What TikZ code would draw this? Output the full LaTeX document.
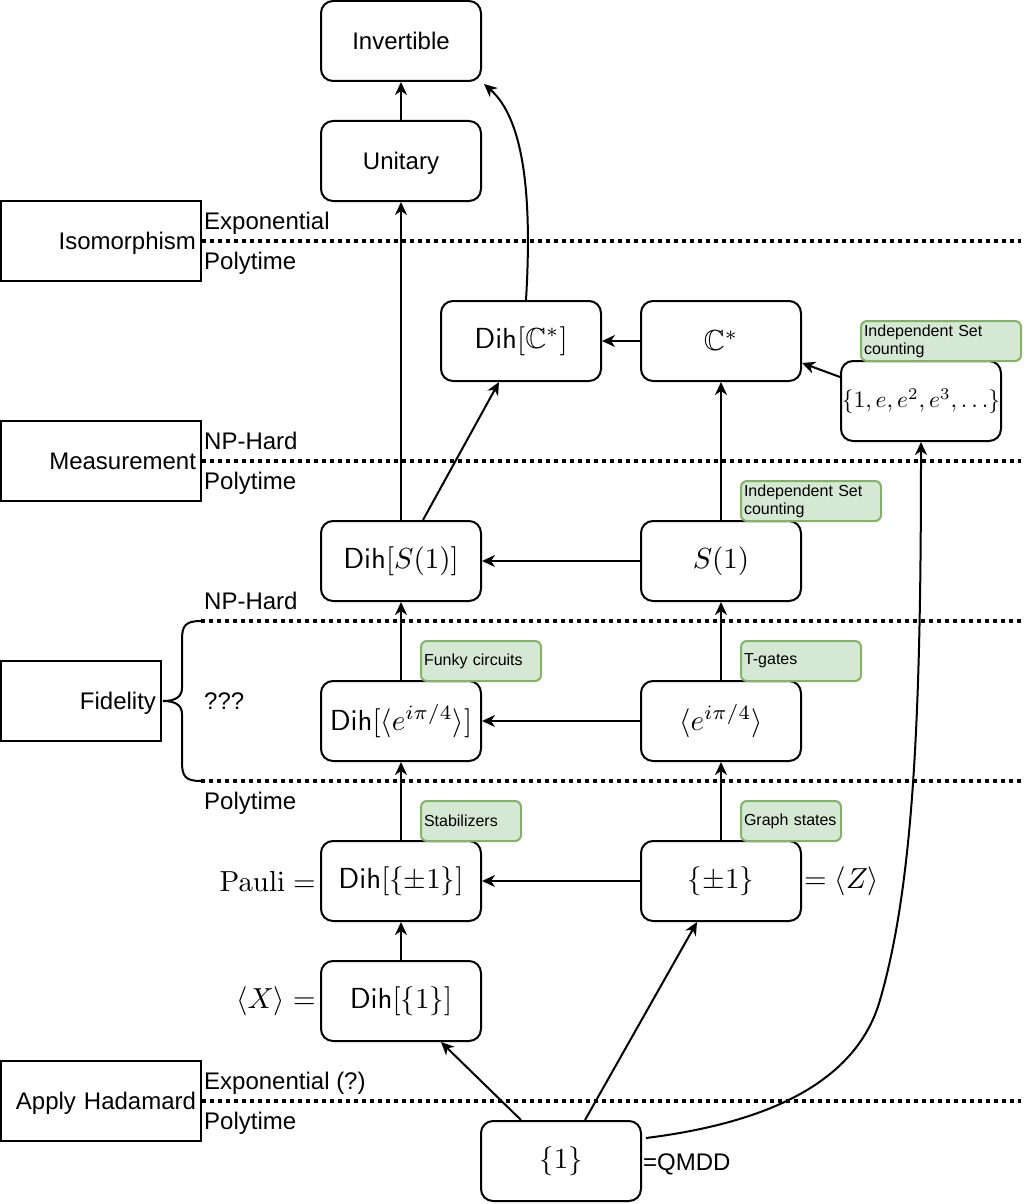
\RequirePackage{fix-cm}
\documentclass[tikz,border=0pt]{standalone}
\usepackage{amssymb}
\usepackage{graphicx}
\usepackage[no-math]{fontspec}
\newfontfamily\lsans{Liberation Sans}
\usetikzlibrary{arrows.meta}
\definecolor{notefill}{HTML}{D5E8D4}
\definecolor{noteline}{HTML}{82B366}
\newcommand{\mth}[2][2.9]{\scalebox{#1}{\fontsize{10}{12}\selectfont$#2$}}
\tikzset{
 box/.style={draw, line width=2pt, rounded corners=12pt, minimum width=160pt, minimum height=80pt, inner sep=0pt},
 sbox/.style={box, text height=17pt, text depth=0pt, font=\lsans\fontsize{24}{28}\selectfont},
 sidebox/.style={draw, line width=2pt, minimum height=80pt, inner xsep=5pt, inner ysep=0pt, align=right, text height=17pt, text depth=0pt, font=\lsans\fontsize{24}{28}\selectfont},
 note/.style={draw=noteline, fill=notefill, line width=2pt, rounded corners=6pt, minimum height=40pt, inner xsep=3pt, inner ysep=0pt, align=left, font=\lsans\fontsize{16}{18}\selectfont},
 lbl/.style={anchor=west, inner sep=0pt, text height=17pt, text depth=0pt, font=\lsans\fontsize{24}{28}\selectfont},
 mlbl/.style={inner sep=0pt},
 arr/.style={line width=2pt, -{Stealth[length=13pt,width=12pt,inset=4pt]}},
 dotline/.style={line width=4pt, dash pattern=on 4pt off 4pt},
}
\begin{document}
\begin{tikzpicture}[x=1pt,y=-1pt]
\fill[white] (0,0) rectangle (1026,1204);
\useasboundingbox (0,0) rectangle (1026,1204);

% side boxes
\node[sidebox, text width=190pt] (iso) at (101,241) {Isomorphism};
\node[sidebox, text width=190pt] (mea) at (101,461) {Measurement};
\node[sidebox, text width=150pt] (fid) at (81,701) {Fidelity};
\node[sidebox, text width=190pt] (had) at (101,1101) {Apply Hadamard};

% dotted boundaries
\coordinate (e1) at (1021,241);
\coordinate (e2) at (1021,461);
\coordinate (bt) at (201,621);
\coordinate (e3) at (1021,621);
\coordinate (bb) at (201,781);
\coordinate (e4) at (1021,781);
\coordinate (e5) at (1021,1101);
\draw[dotline] (iso.east) -- (e1);
\draw[dotline] (mea.east) -- (e2);
\draw[dotline] (bt) -- (e3);
\draw[dotline] (bb) -- (e4);
\draw[dotline] (had.east) -- (e5);

% brace
\draw[line width=2pt] (bt) .. controls (185,621) and (182,626) .. (182,640) -- (182,688) .. controls (182,697) and (175,701) .. (163,701) .. controls (175,701) and (182,705) .. (182,714) -- (182,762) .. controls (182,776) and (185,781) .. (bb);

% region labels
\node[lbl] (t1) at (204,221) {Exponential};
\node[lbl] (t2) at (204,261) {Polytime};
\node[lbl] (t3) at (204,441) {NP-Hard};
\node[lbl] (t4) at (204,481) {Polytime};
\node[lbl] (t5) at (204,601) {NP-Hard};
\node[lbl] (t6) at (204,701) {???};
\node[lbl] (t7) at (204,801) {Polytime};
\node[lbl] (t8) at (204,1081) {Exponential (?)};
\node[lbl] (t9) at (204,1121) {Polytime};

% main nodes
\node[sbox] (inv) at (401,41) {Invertible};
\node[sbox] (uni) at (401,161) {Unitary};
\node[box] (dc) at (521,341) {\mth{\mathsf{Dih}[\mathbb{C}^*]}};
\node[box] (cs) at (721,341) {\mth{\mathbb{C}^*}};
\node[box] (ee) at (921,401) {\mth[2.35]{\{1,e,e^2,e^3,\ldots\}}};
\node[box] (ds) at (401,561) {\mth{\mathsf{Dih}[S(1)]}};
\node[box] (s1) at (721,561) {\mth{S(1)}};
\node[box] (de) at (401,721) {\mth{\mathsf{Dih}[\langle e^{i\pi/4}\rangle]}};
\node[box] (et) at (721,721) {\mth{\langle e^{i\pi/4}\rangle}};
\node[box] (dp) at (401,881) {\mth{\mathsf{Dih}[\{\pm1\}]}};
\node[box] (pm) at (721,881) {\mth{\{\pm1\}}};
\node[box] (d1) at (401,1001) {\mth{\mathsf{Dih}[\{1\}]}};
\node[box] (one) at (561,1161) {\mth{\{1\}}};

% notes
\node[note, text width=154pt] (n1) at (941,341) {Independent Set\\counting};
\node[note, text width=134pt] (n2) at (811,501) {Independent Set\\counting};
\node[note, text width=114pt] (n3) at (481,661) {Funky circuits};
\node[note, text width=114pt] (n4) at (801,661) {T-gates};
\node[note, text width=94pt] (n5) at (471,821) {Stabilizers};
\node[note, text width=94pt] (n6) at (791,821) {Graph states};

% side math labels
\node[mlbl, anchor=east] (pauli) at (316,881) {\mth{\mathrm{Pauli}=}};
\node[mlbl, anchor=east] (xl) at (316,1001) {\mth{\langle X\rangle=}};
\node[mlbl, anchor=west] (zl) at (804,881) {\mth{=\langle Z\rangle}};
\node[lbl] (qm) at (643,1162) {=QMDD};

% edges
\draw[arr] (uni) -- (inv);
\draw[arr] (ds) -- (uni);
\draw[arr] ([xshift=5pt]dc.north) .. controls (532,200) and (525,120) .. ([xshift=2pt,yshift=-2pt]inv.south east);
\draw[arr] (cs) -- (dc);
\draw[arr] ([yshift=24pt]ee.west) -- ([yshift=-22pt]cs.east);
\draw[arr] (s1) -- (cs);
\draw[arr] ([xshift=22pt]ds.north) -- ([xshift=-22pt]dc.south);
\draw[arr] (s1) -- (ds);
\draw[arr] (de) -- (ds);
\draw[arr] (et) -- (s1);
\draw[arr] (et) -- (de);
\draw[arr] (dp) -- (de);
\draw[arr] (pm) -- (et);
\draw[arr] (pm) -- (dp);
\draw[arr] (d1) -- (dp);
\draw[arr] ([xshift=-40pt]one.north) -- ([xshift=40pt]d1.south);
\draw[arr] ([xshift=24pt]one.north) -- ([xshift=-24pt]pm.south);
\draw[arr] ([xshift=4pt,yshift=23pt]one.east) .. controls (790,1120) and (860,1070) .. (880,1000) .. controls (915,880) and (921,700) .. (ee.south);
\end{tikzpicture}
\end{document}
